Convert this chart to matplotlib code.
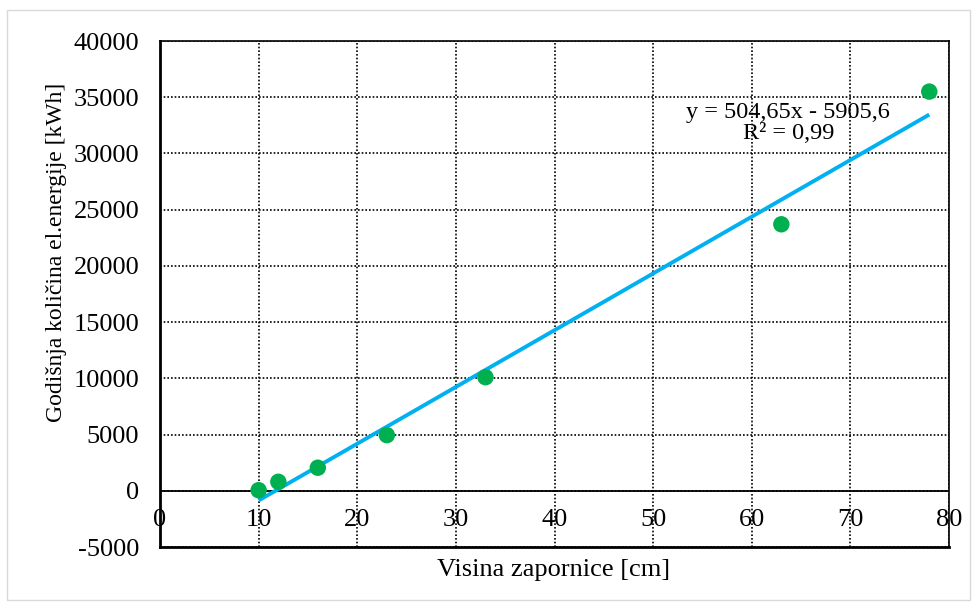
import matplotlib
matplotlib.use("Agg")
import matplotlib.pyplot as plt
import matplotlib.transforms as mtransforms
from matplotlib.patches import Rectangle
import numpy as np

# Data
visina_cm = [10, 12, 16, 23, 33, 63, 78]
energija_kwh = [50, 800, 2050, 4950, 10100, 23700, 35500]
slope = 504.65
intercept = -5905.6
eq_text = "y = 504,65x - 5905,6\nR² = 0,99"
xticks = [0, 10, 20, 30, 40, 50, 60, 70, 80]
yticks = [-5000, 0, 5000, 10000, 15000, 20000, 25000, 30000, 35000, 40000]

plt.rcParams['font.family'] = ['Liberation Serif', 'DejaVu Serif']

W, H = 978, 608
fig = plt.figure(figsize=(W / 100, H / 100), dpi=100)
ax = fig.add_axes([160 / W, 1 - 547 / H, (949 - 160) / W, (547 - 41) / H])

ax.set_xlim(0, 80)
ax.set_ylim(-5000, 40000)
ax.set_xticks(xticks)
ax.set_yticks(yticks)
ax.set_yticklabels([str(v) for v in yticks], fontsize=19)
ax.tick_params(axis='y', length=0, pad=15)
ax.tick_params(axis='x', length=0, labelbottom=False)

ax.grid(True, linestyle=(0, (1, 1.2)), color='black', linewidth=1.2)
ax.set_axisbelow(True)
ax.axhline(0, color='black', linewidth=1.3, zorder=1.5)

for s in ax.spines.values():
    s.set_color('black')
    s.set_linewidth(1.2)
ax.spines['left'].set_linewidth(2)
ax.spines['bottom'].set_linewidth(2)

# x tick labels just below the y=0 line
trans = mtransforms.blended_transform_factory(ax.transData, ax.transData)
for xv in xticks:
    ax.text(xv, -2580, str(xv), ha='center', va='center', fontsize=19,
            transform=trans, zorder=0.5)

# trendline
xl = np.array([min(visina_cm), max(visina_cm)])
ax.plot(xl, slope * xl + intercept, color='#00B0F0', linewidth=2.8, zorder=3,
        solid_capstyle='butt')
ax.scatter(visina_cm, energija_kwh, s=140, color='#00B050', zorder=4,
           edgecolors='none')

ax.text(63.7, 32700, eq_text, ha='center', va='center', fontsize=17.5,
        linespacing=1.05, zorder=5)

fig.text(554 / W, 1 - 570 / H, 'Visina zapornice [cm]', ha='center',
         va='center', fontsize=19)
fig.text(57 / W, 1 - 252 / H, 'Godišnja količina el.energije [kWh]',
         ha='center', va='center', rotation=90, fontsize=17)

fig.patches.append(Rectangle((7 / W, 1 - 600 / H), (970 - 7) / W,
                             (600 - 10) / H, transform=fig.transFigure,
                             fill=False, edgecolor='#D9D9D9', linewidth=1))

fig.savefig('out.png', dpi=100)
